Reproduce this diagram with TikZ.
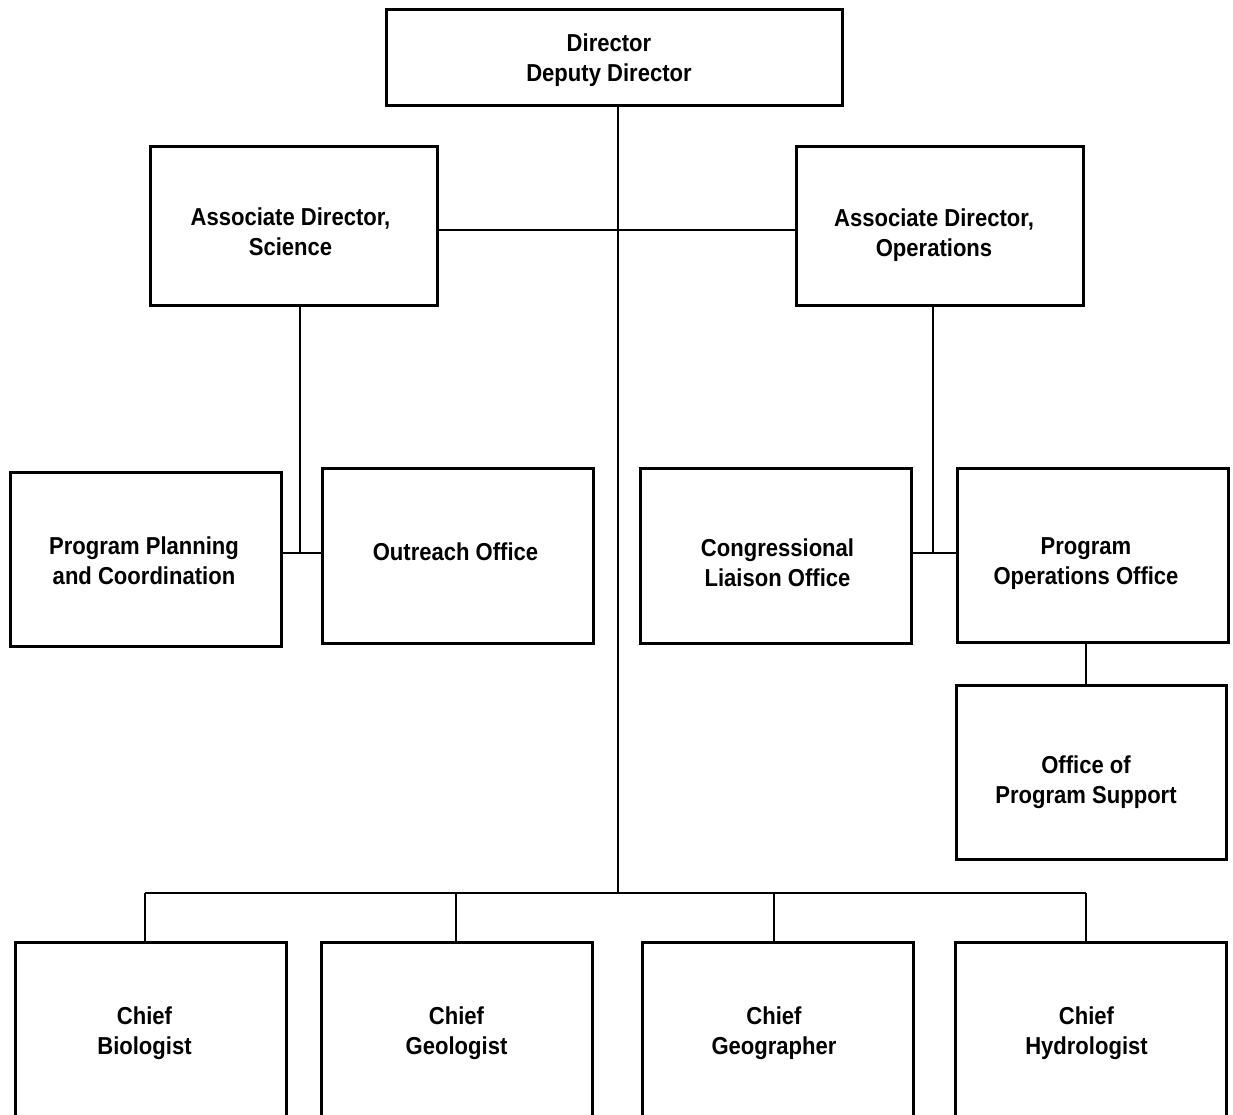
\documentclass[tikz,border=0pt]{standalone}
\usepackage{fontspec}
\setmainfont[FakeStretch=0.9]{Liberation Sans}
\begin{document}
\begin{tikzpicture}[x=1pt,y=-1pt,
  box/.style={draw=black,line width=3pt,fill=white,inner sep=0pt},
  lbl/.style={align=center,inner sep=0pt,font=\fontsize{24.5}{30}\selectfont\bfseries},
  conn/.style={draw=black,line width=2pt}]
\useasboundingbox (0,0) rectangle (1233,1114);
\clip (0,0) rectangle (1233,1114);
% coordinates for connector routing
\coordinate (trunk) at (618,0);
\coordinate (bus) at (0,893);
\coordinate (sj) at (300,553);
\coordinate (oj) at (933,553);
\coordinate (pj) at (1086,0);
\coordinate (d1) at (145,0);
\coordinate (d2) at (456,0);
\coordinate (d3) at (774,0);
\coordinate (d4) at (1086,0);
% boxes
\node[box,minimum width=456pt,minimum height=96pt] (dir) at (614,57) {};
\node[box,minimum width=287pt,minimum height=159pt] (ads) at (293.5,225.5) {};
\node[box,minimum width=287pt,minimum height=159pt] (ado) at (939.5,225.5) {};
\node[box,minimum width=271pt,minimum height=174pt] (ppc) at (145.5,559) {};
\node[box,minimum width=271pt,minimum height=175pt] (oo) at (457.5,555.5) {};
\node[box,minimum width=271pt,minimum height=175pt] (clo) at (775.5,555.5) {};
\node[box,minimum width=271pt,minimum height=174pt] (poo) at (1092.5,555) {};
\node[box,minimum width=270pt,minimum height=174pt] (ops) at (1091,772) {};
\node[box,minimum width=271pt,minimum height=178pt] (cb) at (150.5,1031) {};
\node[box,minimum width=271pt,minimum height=178pt] (cg) at (456.5,1031) {};
\node[box,minimum width=271pt,minimum height=178pt] (cgg) at (777.5,1031) {};
\node[box,minimum width=271pt,minimum height=178pt] (ch) at (1090.5,1031) {};
% labels
\node[lbl] (dirT) at ([xshift=-5pt,yshift=-3pt]dir.center) {Director\\Deputy Director};
\node[lbl] (adsT) at ([xshift=-3pt,yshift=-6.5pt]ads.center) {Associate Director,\\Science};
\node[lbl] (adoT) at ([xshift=-5.5pt,yshift=-9.5pt]ado.center) {Associate Director,\\Operations};
\node[lbl] (ppcT) at ([xshift=-1.5pt,yshift=-1.5pt]ppc.center) {Program Planning\\and Coordination};
\node[lbl] (ooT) at ([xshift=-2pt,yshift=4pt]oo.center) {Outreach Office};
\node[lbl] (cloT) at ([xshift=2pt,yshift=-7pt]clo.center) {Congressional\\Liaison Office};
\node[lbl] (pooT) at ([xshift=-6.5pt,yshift=-8.5pt]poo.center) {Program\\Operations Office};
\node[lbl] (opsT) at ([xshift=-5pt,yshift=-10pt]ops.center) {Office of\\Program Support};
\node[lbl] (cbT) at ([xshift=-6pt,yshift=-2pt]cb.center) {Chief\\Biologist};
\node[lbl] (cgT) at ([yshift=-2pt]cg.center) {Chief\\Geologist};
\node[lbl] (cggT) at ([xshift=-3.5pt,yshift=-2pt]cgg.center) {Chief\\Geographer};
\node[lbl] (chT) at ([xshift=-4pt,yshift=-2pt]ch.center) {Chief\\Hydrologist};
% connectors
\draw[conn] (dir.south -| trunk) -- (trunk |- bus);
\draw[conn] (d1 |- bus) -- (d4 |- bus);
\draw[conn] (d1 |- bus) -- (d1 |- cb.north);
\draw[conn] (d2 |- bus) -- (d2 |- cg.north);
\draw[conn] (d3 |- bus) -- (d3 |- cgg.north);
\draw[conn] (d4 |- bus) -- (d4 |- ch.north);
\draw[conn] (ads.east |- 0,230) -- (ado.west |- 0,230);
\draw[conn] (ads.south -| sj) -- (sj);
\draw[conn] (ppc.east |- sj) -- (oo.west |- sj);
\draw[conn] (ado.south -| oj) -- (oj);
\draw[conn] (clo.east |- oj) -- (poo.west |- oj);
\draw[conn] (poo.south -| pj) -- (ops.north -| pj);
\end{tikzpicture}
\end{document}
